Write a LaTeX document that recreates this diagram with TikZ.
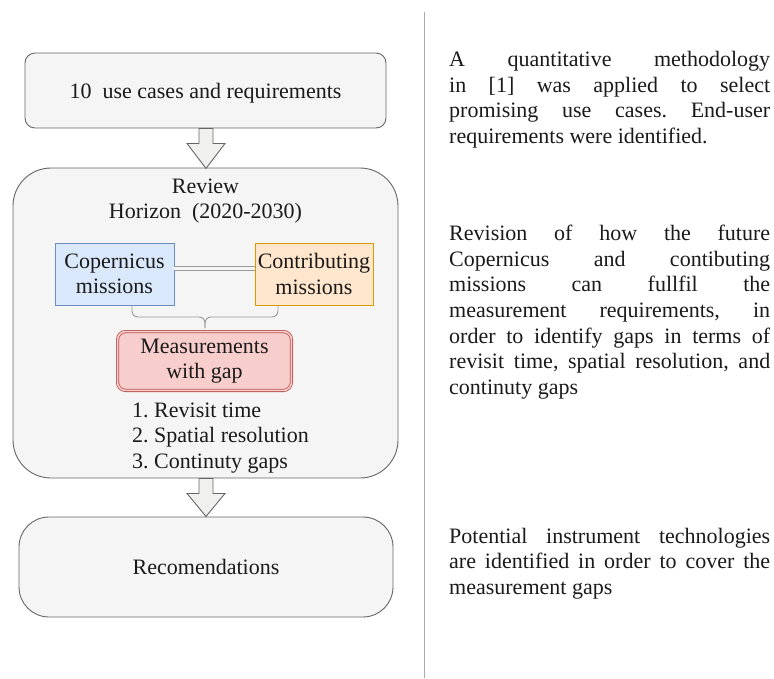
\documentclass[tikz,border=0pt]{standalone}
\usepackage{fontspec}
\setmainfont{Liberation Serif}
\definecolor{boxfill}{HTML}{F5F5F5}
\definecolor{boxline}{HTML}{666666}
\definecolor{txt}{HTML}{1A1A1A}
\definecolor{bluefill}{HTML}{DAE8FC}
\definecolor{blueline}{HTML}{6C8EBF}
\definecolor{orfill}{HTML}{FFE6CC}
\definecolor{orline}{HTML}{D79B00}
\definecolor{redfill}{HTML}{F8CECC}
\definecolor{redline}{HTML}{B85450}
\definecolor{lightgray}{HTML}{9A9A9A}
\definecolor{sepgray}{HTML}{ABABAB}
\definecolor{arrowfill}{HTML}{F0F0EE}
\begin{document}
\frenchspacing
\begin{tikzpicture}[x=1pt,y=-1pt,
  every node/.style={font=\fontsize{22}{25.6}\selectfont, text=txt, inner sep=0pt},
  graybox/.style={draw=boxline, fill=boxfill, line width=0.9pt},
  bluebox/.style={draw=blueline, fill=bluefill, line width=0.9pt, align=center},
  orbox/.style={draw=orline, fill=orfill, line width=0.9pt, align=center},
  redbox/.style={draw=redline, double=redfill, double distance=1.6pt, line width=0.8pt, fill=redfill, rounded corners=8pt, align=center},
  blockarrow/.style={draw=boxline, fill=arrowfill, line width=0.9pt, line join=miter},
  linkline/.style={draw=lightgray, double=boxfill, double distance=2.6pt, line width=0.8pt},
  bracestyle/.style={draw=lightgray, line width=0.9pt, rounded corners=6pt},
  sepline/.style={draw=sepgray, line width=1pt},
  para/.style={anchor=north west, text width=321pt, align=justify}
]
\useasboundingbox (0,0) rectangle (774,678);

% left column
\node[graybox, rounded corners=10pt, minimum width=361pt, minimum height=75pt, text height=20pt, text depth=5pt] (uc) at (205.5,90.5) {10\ \ use cases and requirements};

\node[graybox, rounded corners=38pt, minimum width=385pt, minimum height=310pt] (review) at (205.5,323) {};
\node[align=center] (title) at (205.5,201) {Review\\Horizon\ \ (2020-2030)};

\node[bluebox, minimum width=119pt, minimum height=62pt] (cop) at (114.5,274) {Copernicus\\missions};
\node[orbox, minimum width=118pt, minimum height=62pt] (con) at (314,274) {Contributing\\missions};
\draw[linkline] ([yshift=5.5pt]cop.east) -- ([yshift=5.5pt]con.west);

\node[redbox, minimum width=173.8pt, minimum height=58.8pt] (meas) at (204.5,361) {\raisebox{-2pt}{Measurements}\\\raisebox{-2pt}{with gap}};

\coordinate (bl) at ([xshift=17.5pt]cop.south);
\coordinate (br) at ([xshift=-36pt]con.south);
\coordinate (bm) at (205,317);
\coordinate (bt) at (205,328);
\draw[bracestyle] (bl) |- (bm) -- (bt);
\draw[bracestyle] (br) |- (bm) -- (bt);

\node[align=left, anchor=west] (list) at (132,438) {1. Revisit time\\2. Spatial resolution\\3. Continuty gaps};

\node[graybox, rounded corners=30pt, minimum width=374pt, minimum height=100pt] (rec) at (206,567) {Recomendations};

\draw[blockarrow] ([xshift=0.5pt]uc.south) ++(-7,0) -- ++(14,0) -- ++(0,15) -- ++(12,0) -- ++(-19,25) -- ++(-19,-25) -- ++(12,0) -- cycle;
\draw[blockarrow] ([xshift=0.5pt]review.south) ++(-7,0) -- ++(14,0) -- ++(0,15) -- ++(12,0) -- ++(-19,23) -- ++(-19,-23) -- ++(12,0) -- cycle;

% separator
\coordinate (st) at (424,12);
\coordinate (sb) at (424,678);
\draw[sepline] (st) -- (sb);

% right column
\node[para] (p1) at (449,48.6) {\strut A quantitative methodology\linebreak in [1] was applied to select\linebreak promising use cases. End-user\linebreak requirements were identified.};
\node[para] (p2) at (449,222.6) {\strut Revision of how the future\linebreak Copernicus and contibuting\linebreak missions can fullfil the\linebreak measurement requirements, in\linebreak order to identify gaps in terms of\linebreak revisit time, spatial resolution, and\linebreak continuty gaps};
\node[para] (p3) at (449,525.1) {\strut Potential instrument technologies\linebreak are identified in order to cover the\linebreak measurement gaps};
\end{tikzpicture}
\end{document}
